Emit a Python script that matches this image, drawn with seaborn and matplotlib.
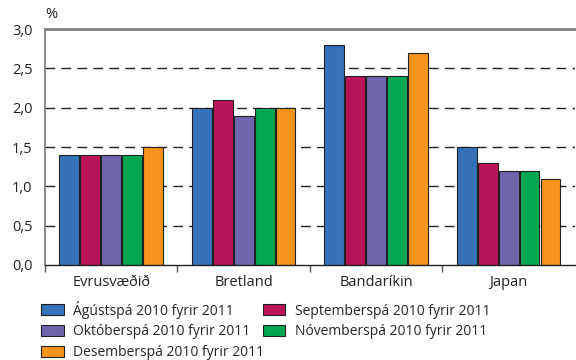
import numpy as np
import pandas as pd
import matplotlib
matplotlib.use("Agg")
import matplotlib.pyplot as plt
import seaborn as sns
from matplotlib.ticker import FuncFormatter, FixedLocator

# data
regions = ["Evrusvæðið", "Bretland", "Bandaríkin", "Japan"]
series = ["Ágústspá 2010 fyrir 2011", "Septemberspá 2010 fyrir 2011",
          "Októberspá 2010 fyrir 2011", "Nóvemberspá 2010 fyrir 2011",
          "Desemberspá 2010 fyrir 2011"]
agust = [1.4, 2.0, 2.8, 1.5]
september = [1.4, 2.1, 2.4, 1.3]
oktober = [1.4, 1.9, 2.4, 1.2]
november = [1.4, 2.0, 2.4, 1.2]
desember = [1.5, 2.0, 2.7, 1.1]
colors = ["#3572B9", "#BA1459", "#6E66AC", "#00A651", "#F7941D"]

rows = []
for name, vals in zip(series, [agust, september, oktober, november, desember]):
    for r, v in zip(regions, vals):
        rows.append({"region": r, "series": name, "value": v})
df = pd.DataFrame(rows)

sns.set_style("white")
plt.rcParams["font.family"] = ["Open Sans", "DejaVu Sans"]

fig = plt.figure(figsize=(5.76, 3.6), dpi=100)
ax = fig.add_axes([0.078, 0.264, 0.92, 0.655])

sns.barplot(data=df, x="region", y="value", hue="series", order=regions,
            hue_order=series, palette=colors, width=0.79, gap=0.05,
            edgecolor="#222222", linewidth=0.8, saturation=1, ax=ax)

ax.set_ylim(0, 3.0)
ax.set_xlim(-0.5, 3.5)
ax.set_yticks([0, 0.5, 1.0, 1.5, 2.0, 2.5, 3.0])
ax.yaxis.set_major_formatter(FuncFormatter(lambda v, p: f"{v:.1f}".replace(".", ",")))
ax.tick_params(axis="y", length=0, pad=9, labelsize=10.5, colors="#222222")

# labels at group centres, tick marks at group boundaries
ax.xaxis.set_major_locator(FixedLocator([-0.5, 0.5, 1.5, 2.5]))
ax.xaxis.set_major_formatter(FuncFormatter(lambda v, p: ""))
ax.xaxis.set_minor_locator(FixedLocator([0, 1, 2, 3]))
ax.set_xticklabels(regions, minor=True)
ax.tick_params(axis="x", which="major", length=5, width=1, color="#555555", direction="out", bottom=True)
ax.tick_params(axis="x", which="minor", length=0, pad=7, labelsize=10.5, colors="#222222")

for y in [0.5, 1.0, 1.5, 2.0, 2.5]:
    ax.axhline(y, color="#222222", lw=1.0, ls=(0, (7, 4.5)), zorder=0)

ax.set_xlabel("")
ax.set_ylabel("")
ax.spines["right"].set_visible(False)
ax.spines["top"].set_color("#808080")
ax.spines["top"].set_linewidth(2)
ax.spines["left"].set_color("#808080")
ax.spines["left"].set_linewidth(1.3)
ax.spines["bottom"].set_color("#222222")
ax.spines["bottom"].set_linewidth(1)

ax.text(0.0, 1.03, "%", transform=ax.transAxes, fontsize=10.5, color="#222222", ha="left", va="bottom")

ax.get_legend().remove()
handles, labels = ax.get_legend_handles_labels()
order = [0, 2, 4, 1, 3]
leg = fig.legend([handles[i] for i in order], [labels[i] for i in order],
                 loc="upper left", bbox_to_anchor=(0.072, 0.165), ncol=2,
                 frameon=False, fontsize=10, handlelength=1.6, handleheight=0.85,
                 handletextpad=0.7, columnspacing=-0.1, labelspacing=0.42,
                 borderaxespad=0, borderpad=0)

fig.savefig("out.png", dpi=100)
